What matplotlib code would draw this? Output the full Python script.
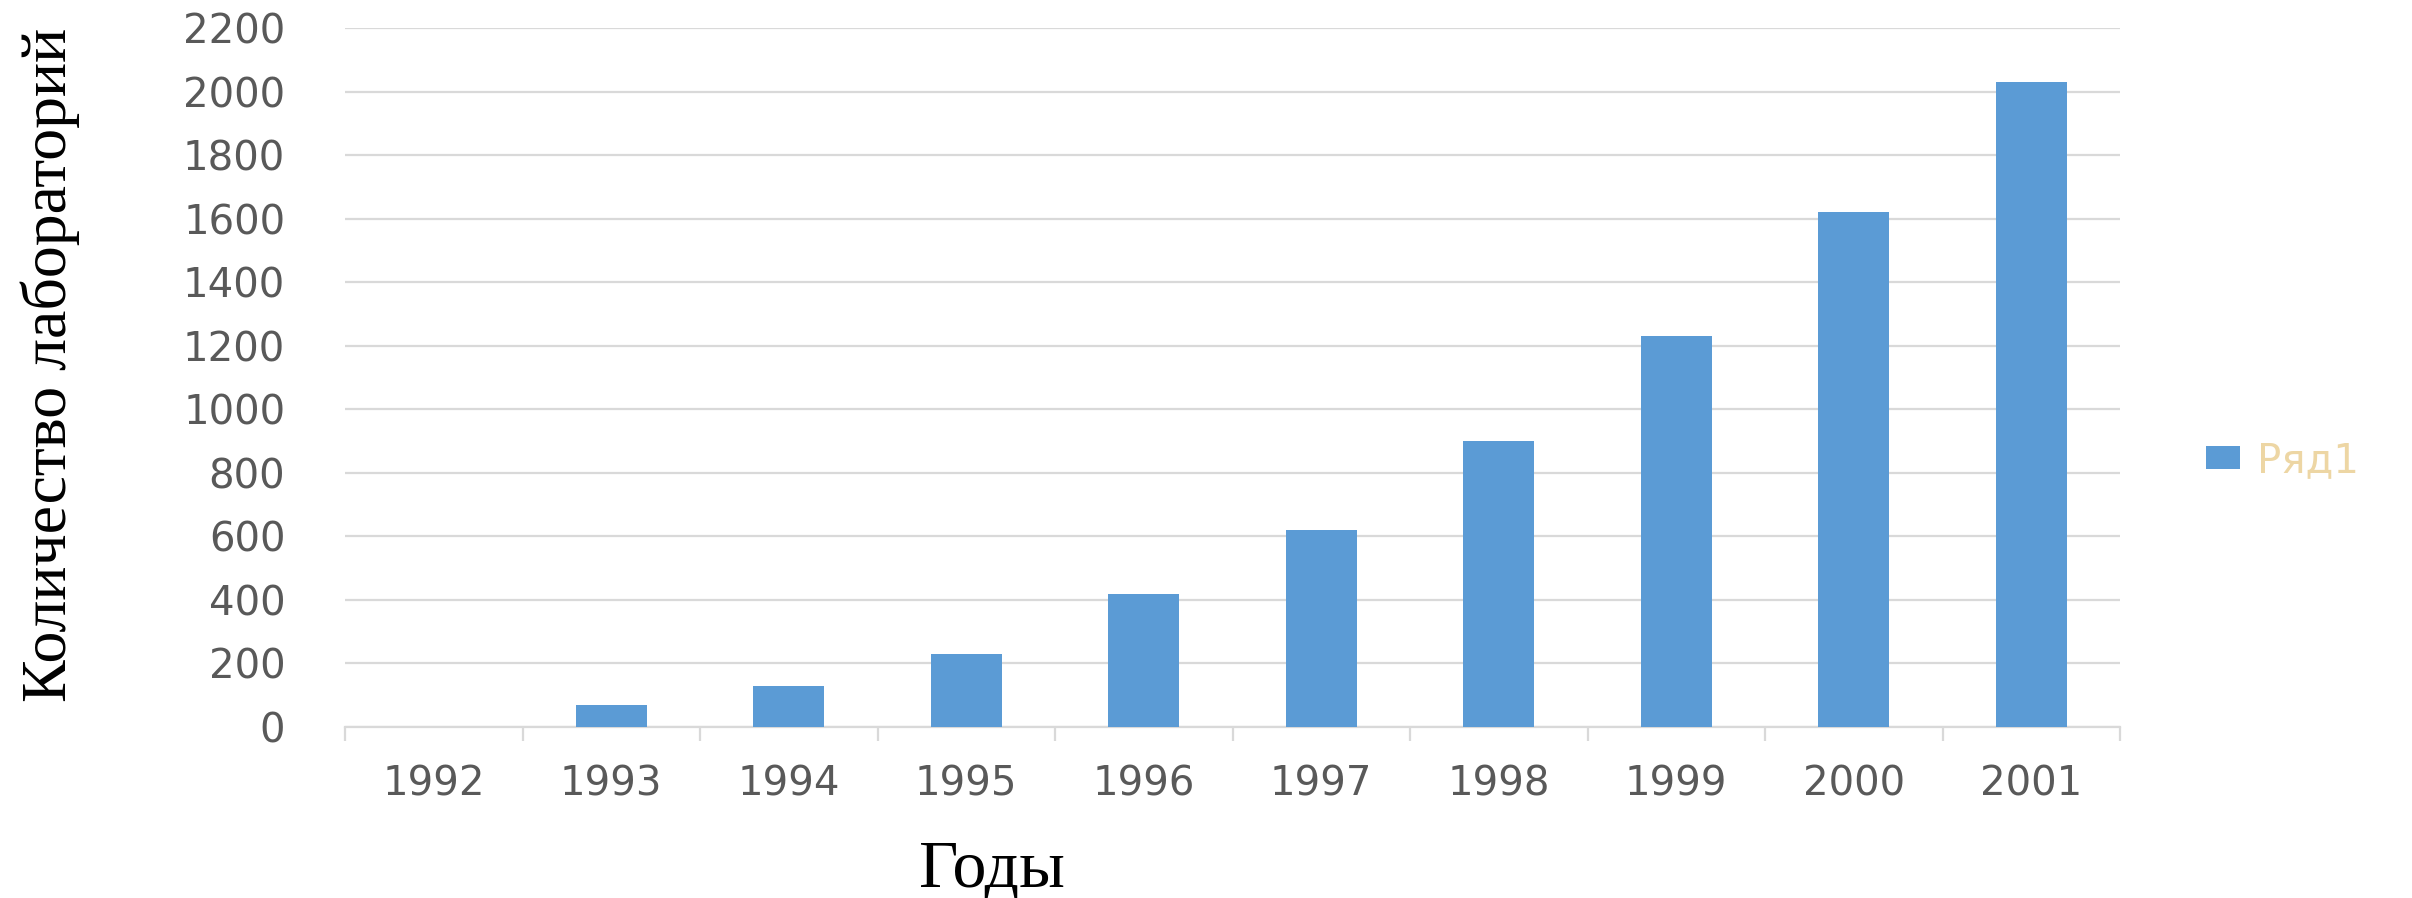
import matplotlib
matplotlib.use("Agg")
import matplotlib.pyplot as plt
from matplotlib.ticker import FixedLocator

years = ["1992", "1993", "1994", "1995", "1996", "1997", "1998", "1999", "2000", "2001"]
values = [0, 70, 130, 230, 420, 620, 900, 1230, 1620, 2030]
y_ticks = [0, 200, 400, 600, 800, 1000, 1200, 1400, 1600, 1800, 2000, 2200]
series_name = "Ряд1"
x_title = "Годы"
y_title = "Количество лабораторий"

W, H = 2412, 898
fig = plt.figure(figsize=(W / 100, H / 100), dpi=100)
ax = fig.add_axes([345 / W, 1 - 727 / H, (2120 - 345) / W, (727 - 28) / H])

x = list(range(len(years)))
ax.bar(x, values, width=0.4, color="#5B9BD5", label=series_name, zorder=3)

ax.set_xlim(-0.5, len(years) - 0.5)
ax.set_ylim(0, 2200)
ax.set_yticks(y_ticks)
ax.set_yticklabels([str(t) for t in y_ticks])
ax.set_xticks(x)
ax.set_xticklabels(years)
ax.xaxis.set_minor_locator(FixedLocator([i - 0.5 for i in range(len(years) + 1)]))

grid_c = "#D9D9D9"
ax.yaxis.grid(True, color=grid_c, linewidth=1.6, zorder=0)
ax.set_axisbelow(True)
for s in ["top", "right", "left"]:
    ax.spines[s].set_visible(False)
ax.spines["bottom"].set_color(grid_c)
ax.spines["bottom"].set_linewidth(1.6)

lab_c = "#595959"
ax.tick_params(axis="y", length=0, pad=43, labelsize=29, labelcolor=lab_c)
ax.tick_params(axis="x", which="major", length=0, pad=27, labelsize=29, labelcolor=lab_c)
ax.tick_params(axis="x", which="minor", length=10, width=1.6, color=grid_c)
for lbl in ax.get_xticklabels() + ax.get_yticklabels():
    lbl.set_family("DejaVu Sans")

fig.text(50 / W, 1 - 365 / H, y_title, rotation=90, ha="center", va="center",
         family="Liberation Serif", fontsize=46, color="black")
fig.text(992 / W, 1 - 887 / H, x_title, ha="center", va="baseline",
         family="Liberation Serif", fontsize=49, color="black")

leg = ax.legend(loc="center left", bbox_to_anchor=(2206 / W, 1 - 461 / H),
                bbox_transform=fig.transFigure, frameon=False, borderpad=0,
                borderaxespad=0, handlelength=0.85, handleheight=0.52,
                handletextpad=0.42, prop={"family": "DejaVu Sans", "size": 29})
for t in leg.get_texts():
    t.set_color("#EDD6A4")

fig.savefig("out.png", dpi=100, facecolor="white")
